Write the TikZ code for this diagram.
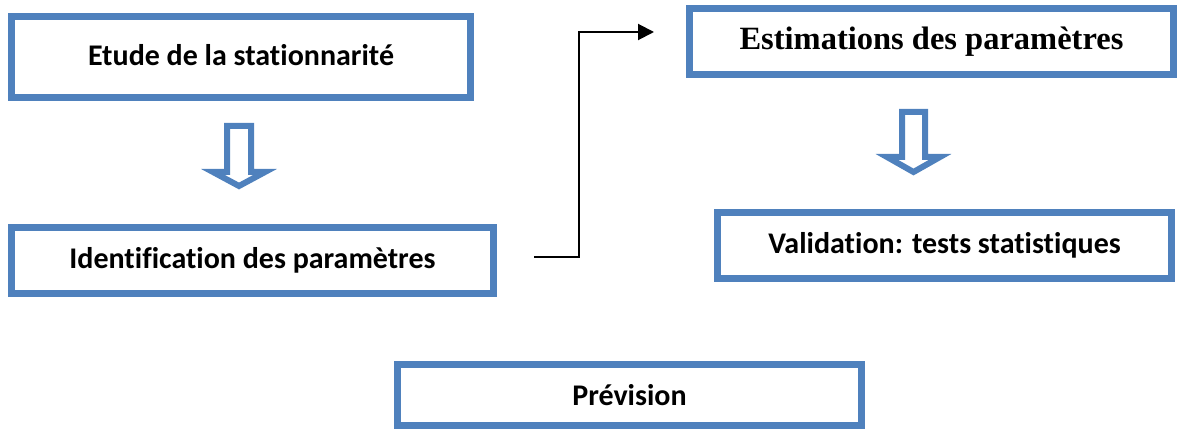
\documentclass[tikz,border=0pt]{standalone}
\usepackage{fontspec}
\setmainfont{Carlito}[Ligatures={NoCommon}]
\newfontfamily\serifbold{Liberation Serif}
\usetikzlibrary{arrows.meta}
\definecolor{boxblue}{RGB}{79,129,189}
\tikzset{
  box/.style={draw=boxblue, line width=7pt, fill=white, rectangle, inner sep=0pt,
    font=\fontsize{30}{34}\selectfont\bfseries},
  blockarrow/.style={draw=boxblue, line width=6pt, fill=white, line join=miter},
  conn/.style={draw=black, line width=2pt, -{Triangle[length=16pt,width=16pt]}}
}
\begin{document}
\begin{tikzpicture}[x=1pt,y=-1pt]
\useasboundingbox (0,0) rectangle (1178,430);
\node[box, minimum width=459pt, minimum height=81pt] (etude) at (241,57) {\raisebox{5pt}{Etude de la stationnarité}};
\node[box, minimum width=482pt, minimum height=66pt] (ident) at (252.5,260.5) {\raisebox{-1pt}{Identification des paramètres}};
\node[box, minimum width=484pt, minimum height=66pt, font=\fontsize{32.5}{36}\serifbold\bfseries] (estim) at (931.5,41.5) {Estimations des paramètres};
\node[box, minimum width=454pt, minimum height=66pt] (valid) at (944.5,245.5) {Validation: tests statistiques};
\node[box, minimum width=464pt, minimum height=61pt] (prev) at (629.5,395) {\raisebox{-2pt}{Prévision}};
% block arrows
\draw[blockarrow] (227,126) -- (251,126) -- (251,172) -- (265,172) -- (239,186) -- (213,172) -- (227,172) -- cycle;
\draw[blockarrow] (902,112) -- (925,112) -- (925,157) -- (940,157) -- (913.5,172) -- (887,157) -- (902,157) -- cycle;
% connector
\coordinate (cstart) at (534,257);
\coordinate (cend) at (654,32);
\draw[conn] (cstart) -- (579,257) -- (579,32) -- (cend);
\end{tikzpicture}
\end{document}
